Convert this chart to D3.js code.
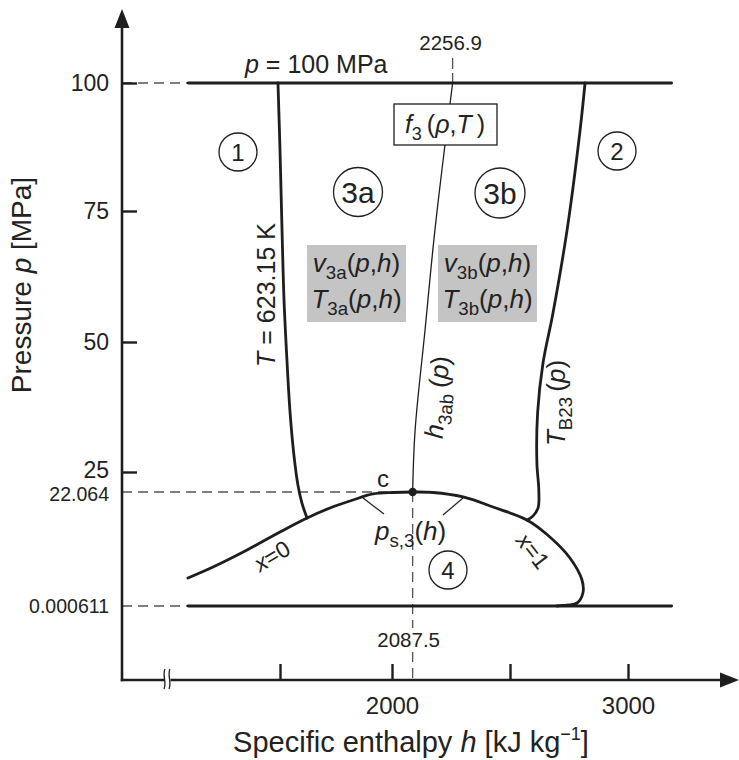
<!DOCTYPE html>
<html><head><meta charset="utf-8">
<script src="https://cdn.jsdelivr.net/npm/d3@7"></script>
<style>
body{margin:0;background:#fff;}
svg{display:block;}
text{font-family:"Liberation Sans", Arial, Helvetica, sans-serif; fill:#222;}
</style></head><body>
<svg id="chart" width="739" height="760"></svg>
<script>
// ---- axis ticks ----
const hTicks = [1500, 2000, 2500, 3000];
const hTickLabels = ["", "2000", "", "3000"];
const pTicks = [25, 50, 75, 100];
const pSpecialTicks = [22.064, 0.000611];
const pSpecialLabels = ["22.064", "0.000611"];

// ---- range of the diagram ----
const hMin = 1090, hMax = 3185;
const pMax = 100, pTriple = 0.000611;
const critH = 2087.5, critP = 22.064;
const h3abTopH = 2256.9;

// boundary region 1 / region 3 (isotherm T = 623.15 K)
const t623H = [1491, 1500, 1509, 1518, 1531, 1545, 1562, 1580, 1598, 1621];
const t623P = [100, 86.9, 71.4, 58.0, 46.5, 36.4, 28.3, 23.1, 19.9, 17.0];

// saturation line x=0 ... critical point ... x=1
const satH = [1089, 1201, 1353, 1500, 1621, 1723, 1826, 1915, 2004, 2087.5, 2174, 2301, 2428, 2572, 2669, 2754, 2805, 2809, 2784, 2725, 2699];
const satP = [5.42, 7.55, 10.84, 14.32, 17.03, 18.97, 20.52, 21.68, 21.97, 22.064, 21.97, 21.10, 19.16, 16.64, 13.35, 9.29, 5.03, 2.52, 0.58, 0.10, 0.000611];

// B23 boundary (region 2 / region 3)
const b23H = [2818, 2797, 2742, 2682, 2640, 2617, 2614, 2622, 2619, 2597, 2572];
const b23P = [100, 90.8, 71.4, 55.5, 46.0, 36.4, 26.7, 22.4, 19.0, 17.4, 16.6];

// h3ab(p) subregion boundary
const h3abH = [2256.9, 2182, 2140, 2098, 2087.5];
const h3abP = [100, 71.4, 52.3, 33.1, 22.064];

const svg = d3.select("#chart");
const x = d3.scaleLinear().domain([1500, 2000, 3000]).range([280, 392, 628]);
const y = d3.scaleLinear().domain([0.000611, 22.064, 25, 50, 75, 100]).range([606, 492, 472, 342, 211, 83]);

const axX0 = 122, axY0 = 680;
const ink = "#1e1e1e";

const zip = (H, P) => H.map((h, i) => [h, P[i]]);
const line = d3.line().x(d => x(d[0])).y(d => y(d[1]));
const smooth = d3.line().x(d => x(d[0])).y(d => y(d[1])).curve(d3.curveCatmullRom.alpha(0.5));

// ---- dashed reference lines ----
const dash = svg.append("g").attr("stroke", "#555").attr("stroke-width", 1.3).attr("stroke-dasharray", "10,6").attr("fill", "none");
dash.append("line").attr("x1", axX0).attr("x2", x(hMin)).attr("y1", y(pMax)).attr("y2", y(pMax));
dash.append("line").attr("x1", axX0).attr("x2", x(hMin)).attr("y1", y(pTriple)).attr("y2", y(pTriple));
dash.append("line").attr("x1", axX0).attr("x2", x(critH)).attr("y1", y(critP)).attr("y2", y(critP));
dash.append("line").attr("x1", x(critH)).attr("x2", x(critH)).attr("y1", y(critP)).attr("y2", 628);
dash.append("line").attr("x1", x(critH)).attr("x2", x(critH)).attr("y1", 652).attr("y2", axY0);
dash.append("line").attr("x1", x(h3abTopH)).attr("x2", x(h3abTopH)).attr("y1", 58).attr("y2", y(pMax))
  .attr("stroke-dasharray", "11,4");

// ---- thin h3ab line ----
svg.append("path").attr("d", smooth(zip(h3abH, h3abP))).attr("fill", "none").attr("stroke", ink).attr("stroke-width", 1.3);

// ---- bold boundary curves ----
const bold = svg.append("g").attr("fill", "none").attr("stroke", ink).attr("stroke-width", 2.8).attr("stroke-linecap", "round").attr("stroke-linejoin", "round");
bold.append("path").attr("d", line([[hMin, pMax], [hMax, pMax]]));
bold.append("path").attr("d", line([[hMin, pTriple], [hMax, pTriple]]));
bold.append("path").attr("d", smooth(zip(t623H, t623P)));
bold.append("path").attr("d", smooth(zip(satH, satP)));
bold.append("path").attr("d", smooth(zip(b23H, b23P)));

// critical point
svg.append("circle").attr("cx", x(critH)).attr("cy", y(critP)).attr("r", 4.2).attr("fill", ink);

// ---- axes ----
const yAxis = d3.axisLeft(y).tickValues(pTicks).tickSize(-15).tickPadding(13).tickFormat(d3.format("d"));
const gy = svg.append("g").attr("transform", `translate(${axX0},0)`).call(yAxis);
gy.select(".domain").remove();
gy.selectAll(".tick line").attr("stroke", ink).attr("stroke-width", 2.4);
gy.selectAll(".tick text").attr("font-size", 23).attr("fill", "#222").attr("font-family", "Liberation Sans, Arial, sans-serif")
  .attr("dy", d => d === 25 ? "0.22em" : "0.32em");

const yAxis2 = d3.axisLeft(y).tickValues(pSpecialTicks).tickSize(0).tickPadding(13).tickFormat((d, i) => pSpecialLabels[i]);
const gy2 = svg.append("g").attr("transform", `translate(${axX0},0)`).call(yAxis2);
gy2.select(".domain").remove();
gy2.selectAll(".tick text").attr("font-size", 19.5).attr("fill", "#222").attr("font-family", "Liberation Sans, Arial, sans-serif")
  .attr("dy", d => d === 22.064 ? "0.45em" : "0.32em");

const xAxis = d3.axisBottom(x).tickValues(hTicks).tickSize(-16).tickPadding(17).tickFormat((d, i) => hTickLabels[i]);
const gx = svg.append("g").attr("transform", `translate(0,${axY0})`).call(xAxis);
gx.select(".domain").remove();
gx.selectAll(".tick line").attr("stroke", ink).attr("stroke-width", 2.4);
gx.selectAll(".tick text").attr("font-size", 24).attr("fill", "#222").attr("font-family", "Liberation Sans, Arial, sans-serif");

// axis lines with arrow heads
svg.append("line").attr("x1", axX0).attr("x2", axX0).attr("y1", axY0 + 1.2).attr("y2", 20).attr("stroke", ink).attr("stroke-width", 2.6);
svg.append("line").attr("x1", axX0 - 1.2).attr("x2", 728).attr("y1", axY0).attr("y2", axY0).attr("stroke", ink).attr("stroke-width", 2.6);
svg.append("path").attr("d", `M${axX0},9 L${axX0 - 7.5},28 L${axX0 + 7.5},28 Z`).attr("fill", ink);
svg.append("path").attr("d", `M739,${axY0} L720,${axY0 - 7.5} L720,${axY0 + 7.5} Z`).attr("fill", ink);

// axis break
svg.append("rect").attr("x", 164.5).attr("y", axY0 - 3).attr("width", 6).attr("height", 6).attr("fill", "#fff");
const brk = svg.append("g").attr("fill", "none").attr("stroke", ink).attr("stroke-width", 1.3);
brk.append("path").attr("d", `M165,${axY0 - 11} C162,${axY0 - 5} 167,${axY0 + 2} 164,${axY0 + 9}`);
brk.append("path").attr("d", `M170,${axY0 - 11} C167,${axY0 - 5} 172,${axY0 + 2} 169,${axY0 + 9}`);

// ---- text helpers ----
function rich(g, parts, size) {
  const t = g.append("text").attr("font-size", size);
  parts.forEach(p => {
    const s = t.append("tspan").text(p.t);
    if (p.i) s.attr("font-style", "italic");
    if (p.sub) s.attr("font-size", size * 0.72).attr("dy", size * 0.28);
    if (p.sup) s.attr("font-size", size * 0.62).attr("dy", -size * 0.42);
    if (p.back) s.attr("dy", p.back);
  });
  return t;
}

// axis titles
const yt = svg.append("g").attr("transform", "translate(31,285) rotate(-90)");
rich(yt, [{t: "Pressure "}, {t: "p", i: 1}, {t: " [MPa]"}], 28).attr("text-anchor", "middle");
const xt = svg.append("g").attr("transform", "translate(411,752)");
rich(xt, [{t: "Specific enthalpy "}, {t: "h", i: 1}, {t: " [kJ kg"}, {t: "\u22121", sup: 1}, {t: "]", back: 29 * 0.42}], 29).attr("text-anchor", "middle");

// p = 100 MPa
rich(svg.append("g").attr("transform", "translate(245,73)"), [{t: "p", i: 1}, {t: " = 100 MPa"}], 25);

// special enthalpy values
svg.append("text").attr("x", x(h3abTopH) - 2).attr("y", 50).attr("text-anchor", "middle").attr("font-size", 20.5).text("2256.9");
svg.append("text").attr("x", x(critH) - 4).attr("y", 647).attr("text-anchor", "middle").attr("font-size", 20.5).text("2087.5");

// f3 box
svg.append("rect").attr("x", 394).attr("y", 104).attr("width", 103).attr("height", 41).attr("fill", "#fff").attr("stroke", ink).attr("stroke-width", 1.3);
rich(svg.append("g").attr("transform", "translate(445,133)"), [{t: "f", i: 1}, {t: "3", sub: 1}, {t: "\u2009(", back: -25 * 0.28}, {t: "\u03c1", i: 1}, {t: ","}, {t: "T", i: 1}, {t: "\u2009)"}], 25).attr("text-anchor", "middle");

// region circles
const regions = [
  {cx: 238, cy: 152, r: 19, t: "1", fs: 24},
  {cx: 617, cy: 151, r: 19, t: "2", fs: 24},
  {cx: 358, cy: 192, r: 24.5, t: "3a", fs: 30},
  {cx: 500, cy: 193, r: 25, t: "3b", fs: 30},
  {cx: 448, cy: 570, r: 19, t: "4", fs: 24}
];
regions.forEach(d => {
  svg.append("circle").attr("cx", d.cx).attr("cy", d.cy).attr("r", d.r).attr("fill", "none").attr("stroke", ink).attr("stroke-width", 1.3);
  svg.append("text").attr("x", d.cx).attr("y", d.cy).attr("dy", "0.36em").attr("text-anchor", "middle").attr("font-size", d.fs).text(d.t);
});

// gray function boxes
[{x0: 307, sub: "3a"}, {x0: 438, sub: "3b"}].forEach(b => {
  svg.append("rect").attr("x", b.x0).attr("y", 245).attr("width", 99).attr("height", 77).attr("fill", "#c4c4c4");
  rich(svg.append("g").attr("transform", `translate(${b.x0 + 49.5},272)`),
    [{t: "v", i: 1}, {t: b.sub, sub: 1}, {t: "(", back: -26 * 0.28}, {t: "p", i: 1}, {t: ","}, {t: "h", i: 1}, {t: ")"}], 26).attr("text-anchor", "middle");
  rich(svg.append("g").attr("transform", `translate(${b.x0 + 49.5},308)`),
    [{t: "T", i: 1}, {t: b.sub, sub: 1}, {t: "(", back: -26 * 0.28}, {t: "p", i: 1}, {t: ","}, {t: "h", i: 1}, {t: ")"}], 26).attr("text-anchor", "middle");
});

// rotated curve labels
rich(svg.append("g").attr("transform", "translate(275,295) rotate(-90)"), [{t: "T", i: 1}, {t: " = 623.15 K"}], 25).attr("text-anchor", "middle");
rich(svg.append("g").attr("transform", "translate(446,398) rotate(-85)"), [{t: "h", i: 1}, {t: "3ab", sub: 1}, {t: "\u2009(", back: -26 * 0.28}, {t: "p", i: 1}, {t: ")"}], 26).attr("text-anchor", "middle");
rich(svg.append("g").attr("transform", "translate(565,403) rotate(-90)"), [{t: "T", i: 1}, {t: "B23", sub: 1}, {t: "\u2009(", back: -26 * 0.28}, {t: "p", i: 1}, {t: ")"}], 26).attr("text-anchor", "middle");

svg.append("text").attr("x", 383).attr("y", 487).attr("text-anchor", "middle").attr("font-size", 24).text("c");

rich(svg.append("g").attr("transform", "translate(272,556) rotate(-31)"), [{t: "x", i: 1}, {t: "=0"}], 23).attr("text-anchor", "middle").attr("dy", "0.35em");
rich(svg.append("g").attr("transform", "translate(533,551) rotate(52)"), [{t: "x", i: 1}, {t: "=1"}], 23).attr("text-anchor", "middle").attr("dy", "0.35em");

// ps,3(h) label and pointers
rich(svg.append("g").attr("transform", "translate(375,540)"), [{t: "p", i: 1}, {t: "s,3", sub: 1}, {t: "(", back: -26 * 0.28}, {t: "h", i: 1}, {t: ")"}], 26);
const ptr = svg.append("g").attr("stroke", ink).attr("stroke-width", 1.2);
ptr.append("line").attr("x1", 363).attr("y1", 498).attr("x2", 384).attr("y2", 514);
ptr.append("line").attr("x1", 463).attr("y1", 498).attr("x2", 443).attr("y2", 515);
</script>
</body></html>
